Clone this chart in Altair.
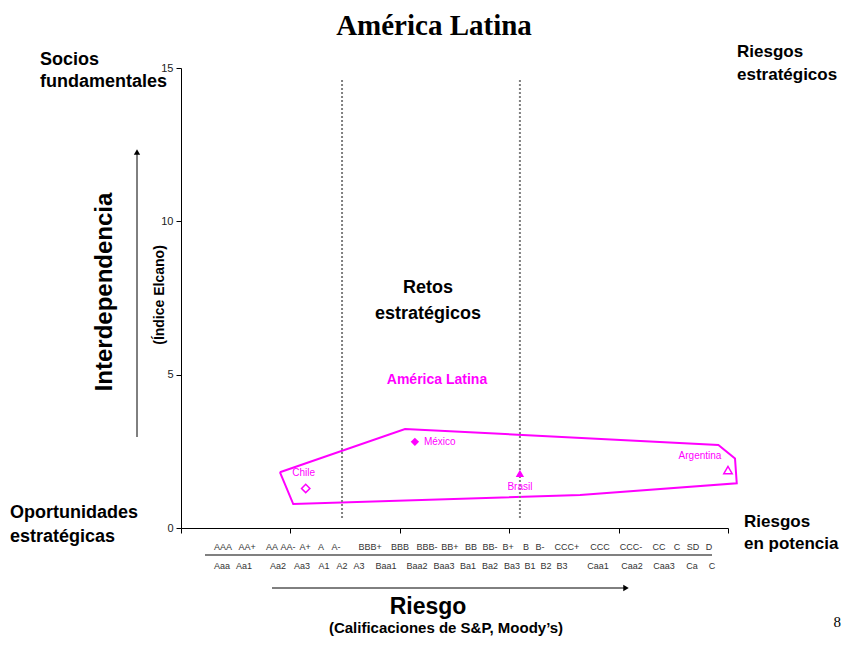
import altair as alt
import pandas as pd

# ---------------- data ----------------
countries = ["Chile", "México", "Brasil", "Argentina"]
country_x = [5.70, 10.69, 15.49, 25.0]
country_y = [1.29, 2.81, 1.78, 1.89]
country_filled = [False, True, True, False]
country_shape = ["diamond", "diamond", "triangle-up", "triangle-up"]

hull_x = [4.52, 10.24, 24.56, 25.32, 25.40, 18.24, 5.13, 4.52]
hull_y = [1.82, 3.23, 2.71, 2.27, 1.46, 1.08, 0.78, 1.82]

divider_x = [7.36, 15.49]

sp_labels = ["AAA", "AA+", "AA", "AA-", "A+", "A", "A-", "BBB+", "BBB", "BBB-",
             "BB+", "BB", "BB-", "B+", "B", "B-", "CCC+", "CCC", "CCC-", "CC",
             "C", "SD", "D"]
sp_x = [1.92, 3.02, 4.16, 4.89, 5.67, 6.40, 7.08, 8.64, 10.01, 11.24,
        12.29, 13.25, 14.12, 14.95, 15.77, 16.41, 17.64, 19.15, 20.57, 21.85,
        22.67, 23.40, 24.13]

moody_labels = ["Aaa", "Aa1", "Aa2", "Aa3", "A1", "A2", "A3", "Baa1", "Baa2",
                "Baa3", "Ba1", "Ba2", "Ba3", "B1", "B2", "B3", "Caa1", "Caa2",
                "Caa3", "Ca", "C"]
moody_x = [1.87, 2.88, 4.43, 5.53, 6.54, 7.36, 8.14, 9.37, 10.79,
           12.02, 13.12, 14.12, 15.13, 15.95, 16.68, 17.41, 19.06, 20.61,
           22.08, 23.35, 24.27]

y_ticks = [0, 5, 10, 15]
x_ticks = [0, 5, 10, 15, 20, 25]

# ---------------- tables ----------------
MAG = "#FF00FF"
pts = pd.DataFrame({"country": countries, "x": country_x, "y": country_y,
                    "filled": country_filled, "shape": country_shape})
hull = pd.DataFrame({"x": hull_x, "y": hull_y, "i": list(range(len(hull_x)))})
divs = pd.DataFrame({"x": divider_x})
sp = pd.DataFrame({"lab": sp_labels, "x": sp_x})
md = pd.DataFrame({"lab": moody_labels, "x": moody_x})
one = pd.DataFrame({"a": [0]})

xs = alt.Scale(domain=[0, 25], nice=False, zero=False)
ys = alt.Scale(domain=[0, 15], nice=False, zero=False)

X0, Y0 = 181, 68  # plot origin on page


def txt(text, X, Y, size, bold=True, color="black", font="Liberation Sans",
        align="center", angle=0, lh=None):
    kw = dict(text=text, fontSize=size, font=font, color=color, align=align,
              baseline="middle", fontWeight="bold" if bold else "normal")
    if angle:
        kw["angle"] = angle
    if lh:
        kw["lineHeight"] = lh
    return alt.Chart(one).mark_text(**kw).encode(
        x=alt.value(X - X0), y=alt.value(Y - Y0))


base = alt.Chart(hull).mark_line(color=MAG, strokeWidth=2).encode(
    x=alt.X("x:Q", scale=xs,
            axis=alt.Axis(values=x_ticks, labels=False, title=None, grid=False,
                          domainColor="black", tickColor="black", tickSize=5,
                          domainWidth=1)),
    y=alt.Y("y:Q", scale=ys,
            axis=alt.Axis(values=y_ticks, title=None, grid=False,
                          domainColor="black", tickColor="black", tickSize=5,
                          labelFontSize=11, labelColor="#222",
                          labelFont="Liberation Sans", labelPadding=3)),
    order="i:O",
)

dividers = alt.Chart(divs).mark_rule(color="#808080", strokeWidth=2,
                                     strokeDash=[2, 2]).encode(
    x=alt.X("x:Q", scale=xs), y=alt.value(80 - Y0), y2=alt.value(518 - Y0))

shape_enc = alt.Shape("shape:N", scale=None, legend=None)
pts_filled = alt.Chart(pts).transform_filter("datum.filled").mark_point(
    filled=True, color=MAG, size=70, opacity=1).encode(
    x=alt.X("x:Q", scale=xs), y=alt.Y("y:Q", scale=ys), shape=shape_enc)
pts_open = alt.Chart(pts).transform_filter("!datum.filled").mark_point(
    filled=False, color=MAG, size=70, strokeWidth=1.5, opacity=1).encode(
    x=alt.X("x:Q", scale=xs), y=alt.Y("y:Q", scale=ys), shape=shape_enc)


def plabel(name, dx, dy, align="center"):
    return alt.Chart(pts).transform_filter(
        alt.datum.country == name).mark_text(
        color=MAG, fontSize=10, font="Liberation Sans", dx=dx, dy=dy,
        align=align, baseline="middle").encode(
        x=alt.X("x:Q", scale=xs), y=alt.Y("y:Q", scale=ys), text="country:N")


labels = (plabel("Chile", -2, -15) + plabel("México", 9, 0, "left")
          + plabel("Brasil", 0, 14) + plabel("Argentina", -28, -14))

sp_text = alt.Chart(sp).mark_text(fontSize=9, font="Liberation Sans",
                                  color="#333", baseline="middle").encode(
    x=alt.X("x:Q", scale=xs), y=alt.value(547 - Y0), text="lab:N")
md_text = alt.Chart(md).mark_text(fontSize=9, font="Liberation Sans",
                                  color="#333", baseline="middle").encode(
    x=alt.X("x:Q", scale=xs), y=alt.value(566 - Y0), text="lab:N")
sep = alt.Chart(one).mark_rule(color="#808080", strokeWidth=2).encode(
    x=alt.value(205 - X0), x2=alt.value(712 - X0), y=alt.value(555 - Y0))

# arrows
v_line = alt.Chart(one).mark_rule(color="black", strokeWidth=1).encode(
    x=alt.value(137 - X0), y=alt.value(437 - Y0), y2=alt.value(154 - Y0))
v_head = alt.Chart(one).mark_point(shape="triangle-up", filled=True,
                                   color="black", size=40, opacity=1).encode(
    x=alt.value(137 - X0), y=alt.value(152 - Y0))
h_line = alt.Chart(one).mark_rule(color="black", strokeWidth=1).encode(
    x=alt.value(272 - X0), x2=alt.value(624 - X0), y=alt.value(588 - Y0))
h_head = alt.Chart(one).mark_point(shape="triangle-right", filled=True,
                                   color="black", size=40, opacity=1).encode(
    x=alt.value(626 - X0), y=alt.value(588 - Y0))

texts = [
    txt("América Latina", 434, 26, 29, font="Liberation Serif"),
    txt(["Socios", "fundamentales"], 40, 60, 18, align="left", lh=22),
    txt(["Riesgos", "estratégicos"], 737, 52, 17, align="left", lh=23),
    txt(["Oportunidades", "estratégicas"], 10, 513, 18, align="left", lh=24),
    txt(["Riesgos", "en potencia"], 744, 522, 17, align="left", lh=22),
    txt(["Retos", "estratégicos"], 428, 288, 18, lh=26),
    txt("América Latina", 437, 380, 14, color=MAG),
    txt("Interdependencia", 105, 292, 24, angle=270),
    txt("(Índice Elcano)", 160, 295, 14, angle=270),
    txt("Riesgo", 428, 607, 23),
    txt("(Calificaciones de S&P, Moody’s)", 446, 628, 15),
    txt("8", 841, 622, 15, bold=False, font="Liberation Serif", align="right"),
]

chart = alt.layer(base, dividers, pts_filled, pts_open, labels, sp_text,
                  md_text, sep, v_line, v_head, h_line, h_head, *texts
                  ).properties(
    width=547, height=460,
    background="white",
    autosize=alt.AutoSizeParams(type="none"),
    padding={"left": 173, "top": 60, "right": 114, "bottom": 109},
).configure_view(stroke=None)

chart.save("out.html", embed_options={"renderer": "svg", "actions": False})
